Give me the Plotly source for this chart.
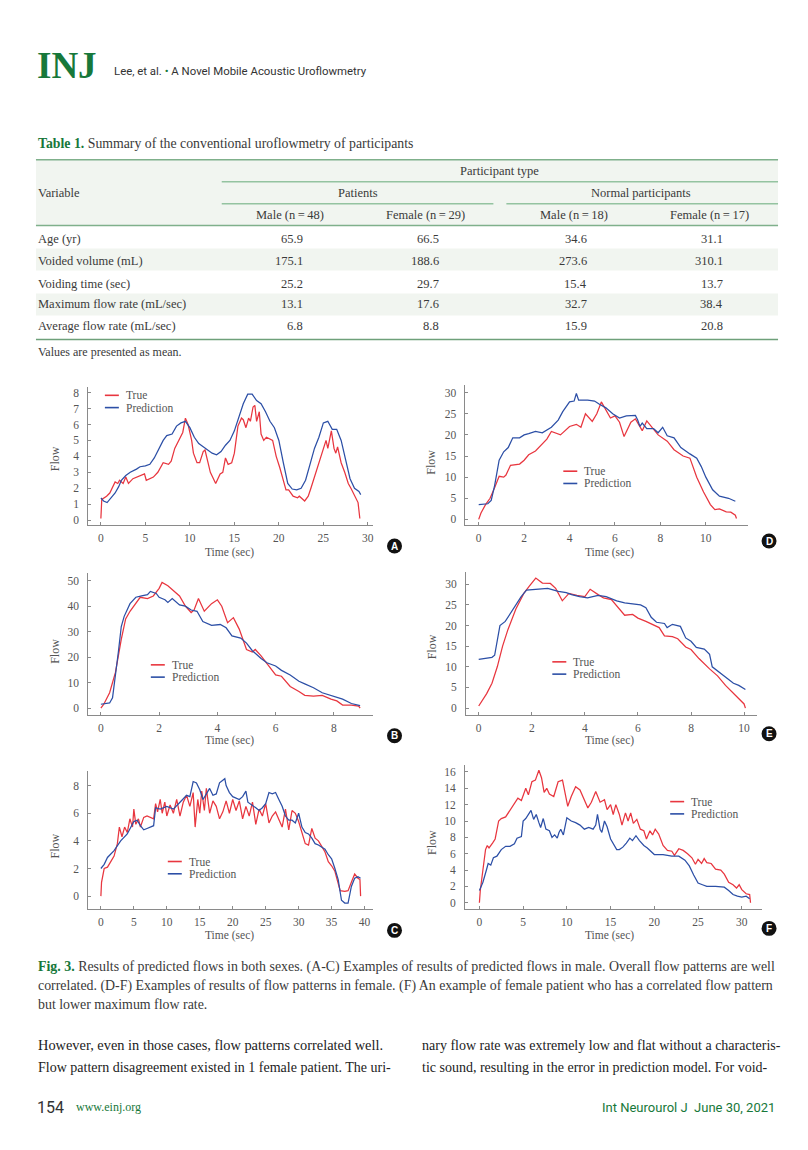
import plotly.graph_objects as go

# ---------------- DATA ----------------
# Table 1
table_cols = ["Male (n=48)", "Female (n=29)", "Male (n=18)", "Female (n=17)"]
table_vars = ["Age (yr)", "Voided volume (mL)", "Voiding time (sec)",
              "Maximum flow rate (mL/sec)", "Average flow rate (mL/sec)"]
patients_male = ["65.9", "175.1", "25.2", "13.1", "6.8"]
patients_female = ["66.5", "188.6", "29.7", "17.6", "8.8"]
normal_male = ["34.6", "273.6", "15.4", "32.7", "15.9"]
normal_female = ["31.1", "310.1", "13.7", "38.4", "20.8"]

# Panel A
A_t_true = [0, 0.1, 0.64, 1.0, 1.6, 1.9, 2.1, 2.5, 2.8, 3.1, 3.6, 4.0, 4.4, 4.9, 5.1, 5.9, 6.4, 7.0, 7.6, 7.9,
            8.3, 8.9, 9.2, 9.5, 9.8, 10.2, 10.4, 10.8, 11.1, 11.5, 11.7, 12.0, 12.3, 12.9, 13.4, 13.7, 14.0,
            14.3, 14.7, 15.0, 15.4, 15.8, 16.0, 16.3, 16.6, 16.8, 17.1, 17.3, 17.5, 17.8, 18.0, 18.3, 18.6,
            19.3, 19.7, 20.1, 20.5, 20.8, 21.1, 21.6, 22.1, 22.3, 22.9, 23.3, 23.6, 24.0, 24.6, 25.0, 25.3,
            25.5, 25.9, 26.2, 26.4, 26.6, 27.0, 27.4, 27.8, 28.1, 28.5, 28.9, 29.1]
A_true = [0.1, 1.3, 1.5, 1.7, 2.4, 2.3, 2.5, 2.3, 2.7, 2.3, 2.6, 2.7, 2.8, 2.9, 2.5, 2.7, 3.0, 3.6, 3.5, 3.7,
          4.5, 5.2, 5.5, 6.4, 6.0, 5.0, 4.2, 3.6, 3.6, 4.3, 4.4, 3.7, 3.0, 2.3, 2.9, 3.0, 3.9,
          3.5, 3.6, 4.2, 5.9, 6.4, 6.3, 5.8, 6.4, 6.2, 7.1, 7.2, 6.2, 6.8, 5.4, 5.0, 5.2,
          5.0, 4.0, 3.3, 2.4, 1.9, 1.9, 1.5, 1.4, 1.5, 1.2, 1.5, 2.0, 2.7, 3.7, 4.5, 5.0,
          4.5, 5.6, 4.5, 4.2, 4.6, 3.6, 3.0, 2.3, 2.0, 1.5, 1.1, 0.1]
A_t_pred = [0, 0.3, 0.7, 1.2, 1.6, 2.0, 2.3, 2.8, 3.3, 4.0, 4.4, 5.0, 5.5, 6.0, 6.5, 7.0, 7.4, 8.0, 8.5, 9.0,
            9.5, 10.0, 10.5, 11.0, 11.5, 12.0, 12.5, 13.0, 13.5, 14.0, 14.5, 15.0, 15.5, 16.0, 16.5, 17.0,
            17.5, 18.0, 18.5, 19.0, 19.5, 20.0, 20.5, 21.0, 21.5, 22.0, 22.5, 23.0, 23.5, 24.0, 24.5, 25.0,
            25.5, 26.0, 26.5, 27.0, 27.5, 28.0, 28.5, 29.0, 29.2]
A_pred = [1.4, 1.2, 1.1, 1.4, 1.7, 2.1, 2.5, 2.8, 3.0, 3.2, 3.35, 3.4, 3.5, 3.9, 4.5, 5.0, 5.3, 5.4, 5.9, 6.1,
          6.2, 5.8, 5.2, 4.8, 4.6, 4.4, 4.2, 4.1, 4.3, 4.7, 5.0, 5.6, 6.4, 7.3, 7.9, 7.9,
          7.5, 7.3, 6.8, 6.2, 5.8, 5.0, 3.6, 2.3, 1.95, 1.9, 2.0, 2.5, 3.5, 4.5, 5.2, 6.1,
          6.2, 5.7, 5.7, 5.0, 3.8, 2.6, 2.0, 1.8, 1.6]

# Panel B
B_t_true = [0, 0.1, 0.3, 0.5, 0.7, 0.85, 1.0, 1.2, 1.35, 1.6, 1.8, 2.0, 2.1, 2.3, 2.5, 2.7, 2.9, 3.1, 3.2,
            3.35, 3.55, 3.8, 4.0, 4.15, 4.35, 4.55, 4.75, 5.0, 5.2, 5.3, 5.5, 5.8, 6.0, 6.2, 6.5, 6.8, 7.0,
            7.3, 7.6, 7.9, 8.1, 8.3, 8.6, 8.85, 8.9]
B_true = [0, 1.5, 6, 14, 27, 35, 38, 41, 43.5, 43, 44, 47, 49.3, 48, 46, 44, 40, 37.5, 38.5,
          43, 38, 41, 42.5, 40, 33.5, 35.5, 31, 23, 22, 23, 20.5, 16, 13, 12.5, 8.5, 6.5, 5,
          4.7, 5, 3.5, 2.8, 1.2, 1.2, 0.8, 0]
B_t_pred = [0, 0.3, 0.4, 0.5, 0.6, 0.7, 0.8, 1.0, 1.2, 1.4, 1.6, 1.7, 1.9, 2.0, 2.2, 2.3, 2.45, 2.7, 2.9,
            3.1, 3.3, 3.5, 3.8, 4.1, 4.3, 4.5, 4.8, 5.0, 5.2, 5.5, 5.7, 6.0, 6.2, 6.5, 6.8, 7.0, 7.3,
            7.6, 7.9, 8.3, 8.6, 8.9]
B_pred = [1.5, 2, 4, 12, 22, 32, 36, 41, 43.5, 44, 44.5, 45.8, 45, 43.5, 42.5, 41.5, 43, 40.5, 40,
          38.5, 38, 34, 32.5, 32.8, 31.5, 28.3, 27.5, 25.5, 22.5, 19.5, 17.8, 16.5, 14.8, 13, 10.5, 9.5, 8,
          6, 5, 3.5, 1.8, 1]

# Panel C
C_t_true = [0, 0.1, 0.5, 1.0, 1.5, 2.0, 2.5, 2.8, 3.2, 3.6, 4.0, 4.4, 4.8, 5.0, 5.3, 5.7, 6.0, 6.5, 7.0, 7.5,
            8.0, 8.3, 8.6, 9.0, 9.3, 9.7, 10.0, 10.5, 11.0, 11.5, 12.0, 12.5, 13.0, 13.5, 14.0, 14.3, 14.7,
            15.0, 15.3, 15.7, 16.0, 16.5, 17.0, 17.5, 18.0, 18.5, 19.0, 19.5, 20.0, 20.5, 21.0, 21.5, 22.0,
            22.5, 23.0, 23.5, 24.0, 24.5, 25.0, 25.5, 26.0, 26.5, 27.0, 27.5, 28.0, 28.5, 29.0, 29.5, 30.0,
            30.5, 31.0, 31.5, 32.0, 32.5, 33.0, 33.5, 34.0, 34.5, 35.0, 35.5, 36.0, 36.3, 37.0, 37.5, 38.0,
            38.5, 39.0, 39.3, 39.4]
C_true = [0, 1.0, 2.0, 2.1, 2.5, 2.9, 3.8, 5.0, 4.3, 5.0, 4.6, 5.6, 5.0, 6.3, 5.2, 5.6, 5.0, 5.7, 5.8, 5.7,
          5.6, 6.7, 6.1, 7.0, 6.0, 6.8, 5.8, 6.6, 6.0, 7.0, 5.8, 6.8, 7.3, 6.5, 7.5, 5.0, 7.0,
          6.0, 7.6, 6.2, 7.8, 6.0, 6.9, 6.5, 5.6, 6.1, 6.9, 6.0, 7.0, 6.2, 6.9, 5.6, 6.5,
          5.8, 6.8, 5.2, 6.3, 5.8, 6.7, 5.3, 5.8, 6.1, 5.5, 5.0, 6.3, 4.8, 6.2, 6.0, 5.4,
          4.6, 3.8, 3.7, 4.9, 4.2, 4.0, 3.6, 3.2, 2.5, 2.2, 1.8, 1.0, 0.4, 0.35, 0.4, 1.0,
          1.6, 1.3, 1.2, 0]
C_t_pred = [0, 0.5, 1.0, 2.0, 3.0, 4.0, 5.0, 5.5, 6.0, 6.5, 7.0, 8.0, 8.3, 9.0, 10.0, 11.0, 12.0, 13.0, 13.5,
            14.0, 14.5, 15.0, 15.5, 16.0, 16.5, 17.0, 17.5, 18.0, 18.8, 19.0, 19.5, 20.0, 21.0, 21.5, 22.0,
            22.3, 23.0, 23.5, 24.0, 24.5, 25.0, 25.5, 26.0, 26.5, 27.0, 27.5, 28.0, 28.5, 29.0, 29.5, 30.0,
            30.5, 31.0, 31.5, 32.0, 32.5, 33.0, 34.0, 34.5, 35.0, 35.5, 36.0, 36.5, 37.0, 37.5, 38.0, 38.5,
            39.0, 39.4]
C_pred = [2.0, 2.3, 2.8, 3.3, 4.0, 4.5, 5.4, 5.5, 5.1, 4.8, 4.9, 5.1, 6.4, 6.3, 6.5, 6.3, 6.8, 7.3, 7.2,
          8.3, 8.2, 7.7, 7.0, 7.4, 7.8, 7.3, 7.4, 8.2, 8.5, 8.0, 7.5, 7.2, 7.0, 7.2, 7.6,
          6.8, 6.6, 6.4, 6.2, 6.4, 6.7, 7.5, 7.4, 7.5, 7.0, 6.5, 5.8, 5.5, 5.5, 5.3, 6.0,
          5.0, 4.6, 4.5, 4.2, 3.8, 3.7, 3.4, 3.0, 2.7, 2.0, 1.2, -0.3, -0.5, -0.5, 0.7, 1.3,
          1.4, 1.3]

# Panel D
D_t_true = [0, 0.1, 0.3, 0.5, 0.7, 0.9, 1.1, 1.2, 1.4, 1.8, 2.0, 2.2, 2.5, 2.8, 3.0, 3.2, 3.6, 4.0, 4.3, 4.5,
            4.7, 5.0, 5.2, 5.4, 5.6, 5.8, 6.0, 6.2, 6.4, 6.7, 6.9, 7.1, 7.2, 7.4, 7.6, 7.9, 8.3, 8.6, 9.0,
            9.3, 9.6, 9.9, 10.2, 10.4, 10.6, 10.9, 11.1, 11.3, 11.35]
D_true = [0, 1.5, 3.5, 5, 7.5, 10.2, 10, 10.5, 12.8, 13.1, 14.0, 15.3, 16.2, 18.0, 19.0, 20.8, 20.0, 22.0, 22.5,
          21.8, 25.0, 23.2, 25.0, 27.8, 26.0, 24.0, 24.5, 23.0, 19.6, 23.0, 23.8, 22.0, 21.0, 23.3, 22.0,
          20.0, 18.5, 16.5, 15.0, 14.5, 10.0, 6.5, 3.5, 2.3, 2.5, 1.8, 1.7, 1.0, 0.2]
D_t_pred = [0, 0.4, 0.55, 0.7, 0.9, 1.1, 1.3, 1.5, 1.8, 2.0, 2.2, 2.5, 2.8, 3.2, 3.5, 3.7, 4.0, 4.2, 4.3, 4.4,
            4.8, 5.1, 5.3, 5.6, 5.9, 6.2, 6.5, 6.9, 7.0, 7.1, 7.2, 7.4, 7.7, 7.9, 8.1, 8.3, 8.6, 8.9, 9.3,
            9.6, 9.8, 10.0, 10.3, 10.6, 11.0, 11.3]
D_pred = [3.5, 3.7, 4.5, 8, 14, 16, 17, 19.3, 19.3, 20, 20.3, 20.8, 20.5, 21.8, 23.5, 25.5, 27.8, 28.0, 29.8,
          28.2, 28.2, 28.0, 27.3, 26.4, 25.0, 24.0, 24.5, 24.6, 23.5, 22.0, 22.8, 21.5, 21.5, 20.5, 21.8,
          19.8, 19.3, 17.0, 15.5, 14.5, 12.5, 10.0, 7.0, 5.5, 5.0, 4.3]

# Panel E
E_t_true = [0, 0.1, 0.3, 0.5, 0.7, 0.9, 1.1, 1.4, 1.7, 1.9, 2.15, 2.4, 2.7, 2.9, 3.15, 3.4, 3.7, 4.0, 4.2, 4.5,
            4.7, 5.0, 5.3, 5.5, 5.8, 6.0, 6.3, 6.6, 6.8, 7.0, 7.3, 7.5, 7.8, 8.0, 8.3, 8.7, 9.0, 9.3, 9.6,
            9.9, 10.0, 10.05]
E_true = [0.5, 1.5, 3.5, 6, 10, 15, 19, 24, 27.8, 29.5, 31.5, 30.3, 30.2, 29, 26, 27.8, 27.3, 27, 28.8, 27.5,
          26.7, 26.3, 24, 22.5, 22.7, 21.8, 21, 20.2, 19.5, 17.5, 17.3, 16.8, 14.8, 14.2, 12, 9.5, 7.8, 5.5,
          3.5, 1.5, 1, 0]
E_t_pred = [0, 0.3, 0.5, 0.6, 0.7, 0.8, 1.0, 1.3, 1.6, 1.8, 2.2, 2.6, 3.0, 3.3, 3.5, 3.8, 4.1, 4.5, 4.8, 5.2,
            5.5, 5.8, 6.1, 6.3, 6.5, 6.7, 7.0, 7.1, 7.3, 7.6, 7.8, 8.0, 8.2, 8.5, 8.7, 8.8, 9.0, 9.3, 9.6,
            9.8, 10.05]
E_pred = [11.8, 12, 12.3, 12.8, 16, 20, 21, 24, 27, 28.6, 28.8, 29, 28.3, 28, 27.5, 27, 26.7, 27.3, 27, 26,
          25.5, 25.2, 25, 24.3, 22, 20.8, 20.5, 19.5, 20.3, 19.8, 17, 16.2, 14.7, 14.3, 13, 10, 9, 7.5,
          6, 5.5, 4.5]

# Panel F
F_t_true = [0, 0.1, 0.4, 0.7, 0.9, 1.1, 1.5, 1.8, 2.2, 2.5, 3.0, 3.5, 4.0, 4.4, 4.8, 5.3, 5.6, 6.0, 6.4, 6.8,
            7.1, 7.4, 7.7, 8.0, 8.5, 9.0, 9.5, 9.8, 10.1, 10.5, 11.0, 11.5, 12.0, 12.4, 12.8, 13.3, 13.8,
            14.3, 14.6, 15.0, 15.3, 15.6, 16.0, 16.3, 16.7, 17.0, 17.3, 17.6, 18.0, 18.4, 18.8, 19.1, 19.5,
            19.8, 20.1, 20.5, 21.0, 21.5, 22.0, 22.3, 22.8, 23.3, 23.8, 24.3, 24.7, 25.0, 25.4, 25.7, 26.0,
            26.5, 27.0, 27.6, 28.0, 28.5, 29.0, 29.4, 29.7, 30.0, 30.5, 30.9, 31.0]
F_true = [0, 1.5, 4, 6.5, 7.0, 6.7, 7.3, 7.8, 10.0, 10.3, 10.5, 11.3, 12.0, 12.8, 12.5, 14.0, 13.2, 14.8, 15.0,
          16.2, 15.3, 13.5, 14.0, 13.3, 13.0, 14.8, 15.0, 13.5, 11.8, 13.0, 14.2, 13.8, 12.5, 11.6, 12.3,
          13.6, 12.3, 12.6, 11.4, 12.0, 10.8, 12.0, 10.8, 9.5, 11.0, 10.0, 11.0, 9.7, 10.2, 9.0, 8.8,
          7.8, 8.8, 8.3, 9.0, 8.4, 7.0, 6.4, 6.3, 5.8, 6.6, 6.4, 6.0, 5.5, 4.7, 5.3, 4.8, 5.4, 4.9,
          4.8, 4.1, 4.0, 3.5, 2.5, 2.2, 1.8, 2.2, 1.6, 1.1, 1.0, 0]
F_t_pred = [0, 0.4, 0.8, 1.0, 1.3, 1.6, 2.0, 2.5, 3.0, 3.5, 4.0, 4.3, 4.8, 5.0, 5.3, 5.6, 5.9, 6.2, 6.5, 6.8,
            7.0, 7.3, 7.6, 8.0, 8.3, 8.6, 8.9, 9.1, 9.3, 9.6, 10.0, 10.5, 11.0, 11.5, 12.0, 12.5, 13.0,
            13.3, 13.5, 13.8, 14.0, 14.3, 14.6, 15.0, 15.3, 15.7, 16.0, 16.4, 16.8, 17.2, 17.5, 17.9, 18.3,
            18.8, 19.2, 19.6, 20.0, 20.5, 21.0, 22.0, 22.8, 23.5, 24.0, 24.5, 25.0, 25.5, 26.0, 27.0, 28.0,
            28.5, 29.0, 29.5, 30.0, 30.5, 30.9]
F_pred = [1.5, 2.5, 4.0, 4.8, 4.6, 5.5, 5.7, 6.5, 6.9, 6.9, 7.2, 7.9, 8.1, 10.0, 10.3, 10.8, 11.3, 10.2, 10.8,
          9.8, 9.2, 10.3, 9.0, 8.8, 8.0, 8.3, 7.9, 8.6, 9.0, 8.3, 10.4, 10.0, 9.8, 9.5, 9.0, 9.2, 9.0,
          9.5, 10.8, 9.0, 8.6, 10.0, 9.3, 7.8, 7.2, 6.5, 6.5, 6.8, 7.3, 7.9, 7.6, 8.2, 7.6,
          7.0, 6.7, 6.3, 5.9, 5.9, 5.9, 5.7, 5.7, 5.2, 4.5, 3.4, 2.4, 2.2, 2.0, 2.0, 1.9,
          1.5, 1.0, 0.8, 0.7, 0.8, 0.5]

# Tick values per panel
A_xticks, A_yticks = [0, 5, 10, 15, 20, 25, 30], [0, 1, 2, 3, 4, 5, 6, 7, 8]
B_xticks, B_yticks = [0, 2, 4, 6, 8], [0, 10, 20, 30, 40, 50]
C_xticks, C_yticks = [0, 5, 10, 15, 20, 25, 30, 35, 40], [0, 2, 4, 6, 8]
D_xticks, D_yticks = [0, 2, 4, 6, 8, 10], [0, 5, 10, 15, 20, 25, 30]
E_xticks, E_yticks = [0, 2, 4, 6, 8, 10], [0, 5, 10, 15, 20, 25, 30]
F_xticks, F_yticks = [0, 5, 10, 15, 20, 25, 30], [0, 2, 4, 6, 8, 10, 12, 14, 16]

# ---------------- LAYOUT HELPERS ----------------
# The page body has an 8px default margin, so the figure is 8px smaller and
# every page-pixel coordinate is shifted by that offset.
OFF = 8
W, H = 808 - OFF, 1150 - OFF
GREEN = "#17783a"
LINE_GREEN = "#94c3a0"
RED = "#e8363f"
BLUE = "#2c4fa6"
SERIF = "Liberation Serif"
SANS = "Roboto"
AX_COL = "#8a8a8a"
TXT = "#3a3a3a"


def pxx(x):
    return (x - OFF) / W


def pxy(y):
    return 1 - (y - OFF) / H


# panel geometry: axis box (left, right, top, bottom) in page pixels; calibration pairs (value, pixel)
panels = {
    "A": dict(box=(88.3, 373, 387, 525), xc=(0, 101, 30, 368.3), yc=(0, 520, 8, 392.3),
              leg=(105, 395), circ=(395, 546), ylab=(55, 458), xlab=(230, 552)),
    "D": dict(box=(466, 749, 385, 525), xc=(0, 479.3, 10, 706.7), yc=(0, 519.3, 30, 392.3),
              leg=(564, 471), circ=(770, 541), ylab=(432, 462), xlab=(610, 552)),
    "B": dict(box=(88.3, 373, 573, 715), xc=(0, 101, 8, 334.3), yc=(0, 708.3, 50, 580.7),
              leg=(151, 665), circ=(395, 736), ylab=(55, 651), xlab=(230, 741)),
    "E": dict(box=(466.7, 758, 571.7, 715), xc=(0, 479.3, 10, 745), yc=(0, 708.3, 30, 584.3),
              leg=(553, 662), circ=(770, 734), ylab=(432, 647), xlab=(610, 741)),
    "C": dict(box=(88.3, 373, 771.7, 910), xc=(0, 101, 40, 365), yc=(0, 896.7, 8, 786),
              leg=(168, 862), circ=(395, 931), ylab=(55, 846), xlab=(230, 936)),
    "F": dict(box=(465.7, 763, 765, 910), xc=(0, 480, 30, 742.7), yc=(0, 903.3, 16, 772.3),
              leg=(671, 802), circ=(770, 929), ylab=(432, 843), xlab=(610, 936)),
}

series = {
    "A": (A_t_true, A_true, A_t_pred, A_pred, A_xticks, A_yticks),
    "B": (B_t_true, B_true, B_t_pred, B_pred, B_xticks, B_yticks),
    "C": (C_t_true, C_true, C_t_pred, C_pred, C_xticks, C_yticks),
    "D": (D_t_true, D_true, D_t_pred, D_pred, D_xticks, D_yticks),
    "E": (E_t_true, E_true, E_t_pred, E_pred, E_xticks, E_yticks),
    "F": (F_t_true, F_true, F_t_pred, F_pred, F_xticks, F_yticks),
}

fig = go.Figure()
annotations = []
shapes = []


def text(x, y, s, size, color=TXT, family=SERIF, anchor="left", angle=0):
    annotations.append(dict(x=pxx(x), y=pxy(y), xref="paper", yref="paper", text=s, showarrow=False,
                            xanchor=anchor, yanchor="middle", textangle=angle,
                            font=dict(family=family, size=size, color=color)))


for i, key in enumerate(["A", "D", "B", "E", "C", "F"]):
    p = panels[key]
    tt, yt, tp, yp, xt, ytk = series[key]
    l, r, t, b = p["box"]
    v0, p0, v1, p1 = p["xc"]
    sx = (v1 - v0) / (p1 - p0)
    xr = [v0 + (l - p0) * sx, v0 + (r - p0) * sx]
    w0, q0, w1, q1 = p["yc"]
    sy = (w1 - w0) / (q1 - q0)
    yr = [w0 + (b - q0) * sy, w0 + (t - q0) * sy]
    n = "" if i == 0 else str(i + 1)
    fig.add_trace(go.Scatter(x=tt, y=yt, mode="lines", line=dict(color=RED, width=1.25),
                             xaxis="x" + n, yaxis="y" + n, showlegend=False, name="True"))
    fig.add_trace(go.Scatter(x=tp, y=yp, mode="lines", line=dict(color=BLUE, width=1.25),
                             xaxis="x" + n, yaxis="y" + n, showlegend=False, name="Prediction"))
    axcommon = dict(showgrid=False, zeroline=False, showline=True, linecolor=AX_COL, linewidth=1,
                    ticks="inside", ticklen=3, tickcolor=AX_COL,
                    tickfont=dict(family=SERIF, size=11.5, color="#555"))
    fig.layout["xaxis" + n] = dict(axcommon, domain=[pxx(l), pxx(r)], range=xr, tickvals=xt,
                                   anchor="y" + n, ticklabelstandoff=2)
    fig.layout["yaxis" + n] = dict(axcommon, domain=[pxy(b), pxy(t)], range=yr, tickvals=ytk,
                                   anchor="x" + n, ticklabelstandoff=6)
    text(p["ylab"][0], p["ylab"][1], "Flow", 12, "#555", SERIF, "center", -90)
    text(p["xlab"][0], p["xlab"][1], "Time (sec)", 11.5, "#555", SERIF, "center")
    # legend
    lx, ly = p["leg"]
    for j, (lab, col) in enumerate([("True", RED), ("Prediction", BLUE)]):
        yy = ly + j * 12.3
        shapes.append(dict(type="line", xref="paper", yref="paper", x0=pxx(lx), x1=pxx(lx + 14),
                           y0=pxy(yy), y1=pxy(yy), line=dict(color=col, width=1.6)))
        text(lx + 19, yy, lab, 11.5, "#555", SERIF)
    # panel letter badge
    cx, cy = p["circ"]
    rr = 7.5
    shapes.append(dict(type="circle", xref="paper", yref="paper", x0=pxx(cx - rr), x1=pxx(cx + rr),
                       y0=pxy(cy + rr), y1=pxy(cy - rr), fillcolor="#111", line=dict(width=0)))
    text(cx, cy, "<b>%s</b>" % key, 10, "white", "Liberation Sans", "center")

# header
text(35, 65, "<b>INJ</b>", 37, GREEN, SERIF)
text(112, 70, "Lee, et al. <span style='color:%s'>•</span> A Novel Mobile Acoustic Uroflowmetry" % GREEN,
     11.4, "#333", SANS)

# table
text(36, 143, "<b><span style='color:%s'>Table 1.</span></b> Summary of the conventional uroflowmetry of participants" % GREEN,
     13.8, TXT)
SHADE = "#f1f5f0"
for (y0, y1) in [(159, 225), (248, 270), (293, 315)]:
    shapes.append(dict(type="rect", xref="paper", yref="paper", x0=pxx(36), x1=pxx(779), y0=pxy(y1),
                       y1=pxy(y0), fillcolor=SHADE, line=dict(width=0), layer="below"))


def hline(x0, x1, y, col=LINE_GREEN, w=1.5):
    shapes.append(dict(type="line", xref="paper", yref="paper", x0=pxx(x0), x1=pxx(x1), y0=pxy(y),
                       y1=pxy(y), line=dict(color=col, width=w)))


hline(36, 779, 159, "#7fb08b")
hline(222, 779, 181)
hline(222, 494, 203)
hline(507, 779, 203)
hline(36, 779, 225, "#7fb08b")
hline(36, 779, 339, "#6ea07a")

text(500, 170, "Participant type", 12.5, TXT, SERIF, "center")
text(36, 192, "Variable", 12.5)
text(358, 192, "Patients", 12.5, TXT, SERIF, "center")
text(642, 192, "Normal participants", 12.5, TXT, SERIF, "center")
for cx, lab in zip([290, 426, 575, 710], table_cols):
    text(cx, 214, lab.replace("=", "\u2009=\u2009"), 12.5, TXT, SERIF, "center")
row_y = [238, 260, 283, 304, 326]
for k, (yy, var) in enumerate(zip(row_y, table_vars)):
    text(36, yy, var, 12.5)
    for xr_, col in zip([305, 442, 590, 726], [patients_male, patients_female, normal_male, normal_female]):
        text(xr_, yy, col[k], 12.5, TXT, SERIF, "right")
text(36, 352, "Values are presented as mean.", 12, TXT)

# caption
cap = [
    "<b><span style='color:%s'>Fig. 3.</span></b> Results of predicted flows in both sexes. (A-C) Examples of results of predicted flows in male. Overall flow patterns are well" % GREEN,
    "correlated. (D-F) Examples of results of flow patterns in female. (F) An example of female patient who has a correlated flow pattern",
    "but lower maximum flow rate.",
]
for yy, s in zip([968, 987, 1005], cap):
    text(36, yy, s, 13.9, TXT)

# body text
text(36, 1046, "However, even in those cases, flow patterns correlated well.", 14.4, "#222")
text(36, 1068, "Flow pattern disagreement existed in 1 female patient. The uri-", 14, "#222")
text(421, 1046, "nary flow rate was extremely low and flat without a characteris-", 14, "#222")
text(421, 1068, "tic sound, resulting in the error in prediction model. For void-", 14, "#222")

# footer
text(35, 1108, "154", 16, "#333", SANS)
text(74, 1108, "www.einj.org", 12, GREEN, SERIF)
text(778, 1108, "Int Neurourol J  June 30, 2021", 13, GREEN, SANS, "right")

fig.update_layout(width=W, height=H, margin=dict(l=0, r=0, t=0, b=0), paper_bgcolor="white",
                  plot_bgcolor="rgba(0,0,0,0)", annotations=annotations, shapes=shapes,
                  showlegend=False)
fig.write_html("out.html")
